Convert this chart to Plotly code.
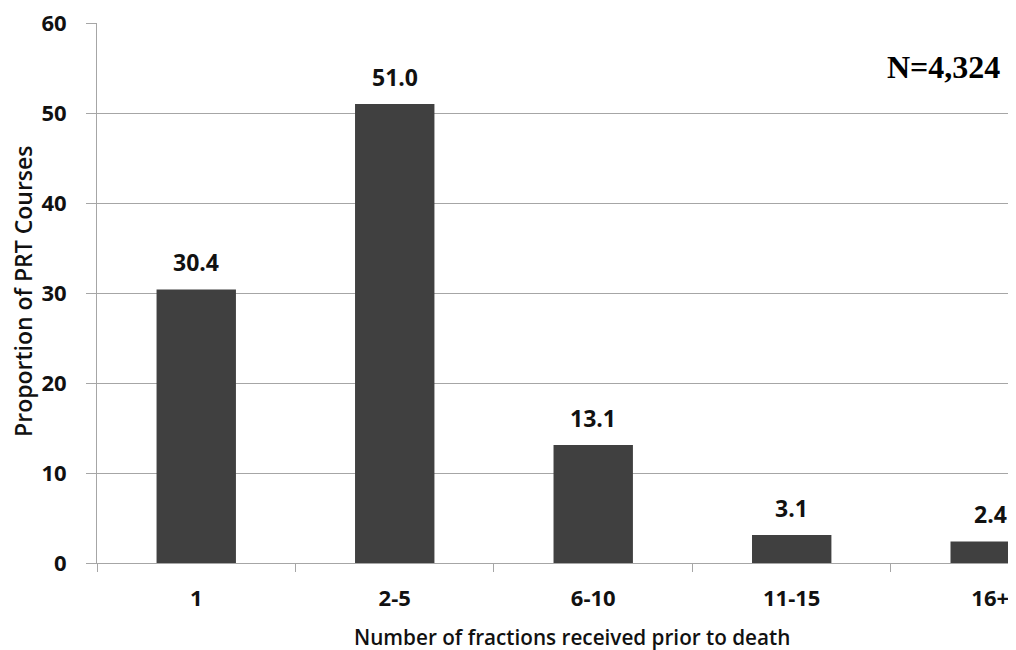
import plotly.graph_objects as go

categories = ["1", "2-5", "6-10", "11-15", "16+"]
values = [30.4, 51.0, 13.1, 3.1, 2.4]
value_labels = ["30.4", "51.0", "13.1", "3.1", "2.4"]
y_ticks = [0, 10, 20, 30, 40, 50, 60]

BAR = "#404040"
GRID = "#a6a6a6"
TXT = "#111111"
FONT = "Open Sans"

fig = go.Figure()
fig.add_trace(go.Bar(
    x=categories, y=values, width=0.4,
    marker=dict(color=BAR, line=dict(width=0)),
    hoverinfo="x+y",
))

for i, (v, t) in enumerate(zip(values, value_labels)):
    fig.add_annotation(x=i, y=v, text=t, showarrow=False, yanchor="middle",
                       yshift=27, font=dict(family=FONT, size=23, color=TXT, weight="bold"))

fig.add_annotation(xref="paper", yref="paper", x=0.9853, y=0.918, xanchor="right", yanchor="middle",
                   text="<b>N=4,324</b>", showarrow=False,
                   font=dict(family="Liberation Serif", size=32, color="#000000"))

# axis titles
fig.add_annotation(xref="paper", yref="paper", x=0.5174, y=-0.137, xanchor="center", yanchor="middle",
                   text="Number of fractions received prior to death", showarrow=False,
                   font=dict(family=FONT, size=20.7, color=TXT, weight=600))
fig.add_annotation(xref="paper", yref="paper", x=-0.0805, y=0.502, xanchor="center", yanchor="middle",
                   text="Proportion of PRT Courses", showarrow=False, textangle=-90,
                   font=dict(family=FONT, size=23, color=TXT, weight=600))

# the page body adds an 8px offset, so the figure is sized/margined to compensate
fig.update_layout(
    width=1008, height=642,
    margin=dict(l=89, r=0, t=15, b=87, autoexpand=False),
    paper_bgcolor="white", plot_bgcolor="white",
    showlegend=False,
    xaxis=dict(
        type="category", range=[-0.5, 4.13], automargin=False,
        tickson="boundaries", ticks="outside", ticklen=8, tickcolor=GRID, tickwidth=1,
        showline=True, linecolor=GRID, linewidth=1,
        showgrid=False, ticklabelstandoff=16, ticklabeloverflow="allow",
        tickfont=dict(family=FONT, size=22, color=TXT, weight="bold"),
    ),
    yaxis=dict(
        range=[0, 60], tickvals=y_ticks, automargin=False,
        ticks="outside", ticklen=10, tickcolor=GRID,
        showline=True, linecolor=GRID, linewidth=1,
        showgrid=True, gridcolor=GRID, gridwidth=1,
        zeroline=False, ticklabelstandoff=15, ticklabeloverflow="allow",
        tickfont=dict(family=FONT, size=22, color=TXT, weight="bold"),
    ),
)

fig.write_html("out.html")
